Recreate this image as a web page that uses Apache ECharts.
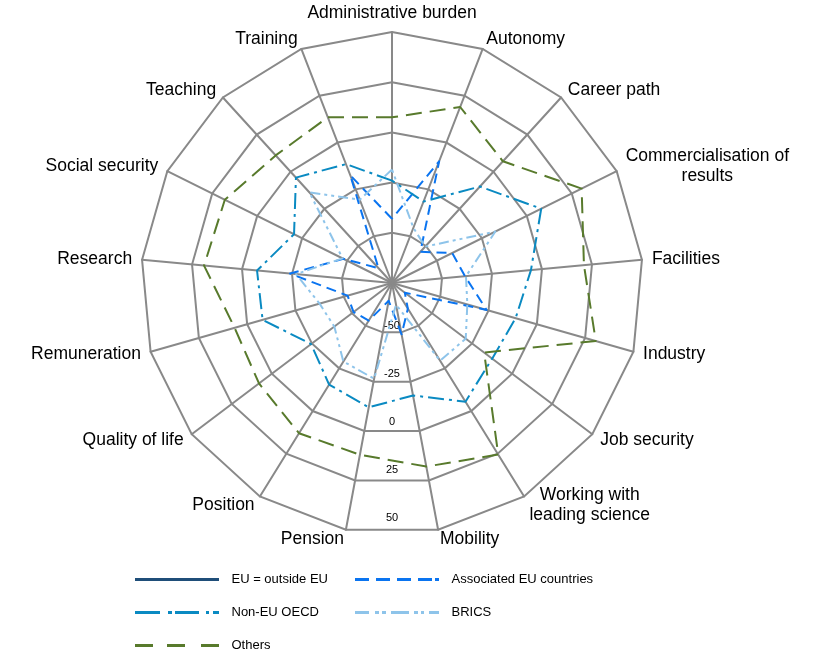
<!DOCTYPE html>
<html>
<head>
<meta charset="utf-8">
<script src="https://cdn.jsdelivr.net/npm/echarts@6/dist/echarts.min.js"></script>
<style>
html, body { margin: 0; padding: 0; background: #fff; }
#chart { width: 819px; height: 658px; }
</style>
</head>
<body>
<div id="chart"></div>
<script>
// axes, clockwise from the top
var indicatorNames = ['Administrative burden', 'Autonomy', 'Career path', 'Commercialisation of\nresults',
    'Facilities', 'Industry', 'Job security', 'Working with\nleading science', 'Mobility', 'Pension',
    'Position', 'Quality of life', 'Remuneration', 'Research', 'Social security', 'Teaching', 'Training'];

var scaleMin = -75;
var scaleMax = 50;
var scaleStep = 25;

var seriesNames = ['EU = outside EU', 'Associated EU countries', 'Non-EU OECD', 'BRICS', 'Others'];

var euOutside  = [0, 0, 0, 0, 0, 0, 0, 0, 0, 0, 0, 0, 0, 0, 0, 0, 0];
var associated = [-43, -10, -54, -41.5, -38.5, -26, -67, -60, -49, -66, -53, -51, -52, -24, -48, -65, -17.5];
var nonEuOecd  = [-24, -31.5, -10, 8, -5.5, -11, -12.5, -5.5, -18, -12, -15.5, -24.5, -8, -7.5, -20.5, -4, -11.5];
var brics      = [-18.5, -45.5, -50.5, -17.5, -38, -36, -29, -29.5, -64, -26.5, -29, -39, -37.5, -27, -47.5, -14, -30.5];
var others     = [7.5, 19, 7, 30.5, 21, 30.5, -17.5, 25.5, 18, 12, 13, 8, 6.5, 19, 18, 11, 13.5];

var colors = ['#1F4E79', '#0A74F0', '#0A8AC2', '#8EC4EA', '#587A2C'];
var dashes = ['solid', [10, 6], [16, 5, 3, 5], [10, 4, 3, 4, 3, 4], [16, 8]];
// legend samples, 85 x 3
var legendIcons = [
    'path://M0,0h84v3h-84z',
    'path://M0,0h14v3h-14zM21,0h14v3h-14zM42,0h14v3h-14zM63,0h14v3h-14zM80,0h4v3h-4z',
    'path://M0,0h25v3h-25zM33,0h4v3h-4zM40,0h24v3h-24zM71,0h3v3h-3zM78,0h6v3h-6z',
    'path://M0,0h14v3h-14zM20,0h4v3h-4zM27,0h4v3h-4zM36,0h18v3h-18zM59,0h4v3h-4zM66,0h3v3h-3zM74,0h10v3h-10z',
    'path://M0,0h18v3h-18zM32,0h18v3h-18zM66,0h18v3h-18z'
];

// echarts radar runs anticlockwise, so flip everything after the first axis
function clockwise(arr) {
    return [arr[0]].concat(arr.slice(1).reverse());
}

var indicator = clockwise(indicatorNames).map(function (n) {
    return { name: n, min: scaleMin, max: scaleMax };
});

var values = [euOutside, associated, nonEuOecd, brics, others];
var radarData = values.map(function (v, i) {
    return {
        name: seriesNames[i],
        value: clockwise(v),
        symbol: 'none',
        itemStyle: { color: colors[i] },
        lineStyle: { color: colors[i], width: 2, type: dashes[i], opacity: i === 0 ? 0 : 1 }
    };
});

function legendItem(i) {
    return { name: seriesNames[i], icon: legendIcons[i], itemStyle: { color: colors[i], opacity: 1 } };
}

var legendBase = {
    orient: 'vertical',
    top: 568,
    itemWidth: 85,
    itemHeight: 3,
    itemGap: 20,
    selectedMode: false,
    textStyle: { color: '#000', fontSize: 13, fontFamily: 'Liberation Sans', padding: [0, 0, 0, 7] }
};

var option = {
    backgroundColor: '#fff',
    animation: false,
    legend: [
        Object.assign({}, legendBase, { left: 130, data: [legendItem(0), legendItem(2), legendItem(4)] }),
        Object.assign({}, legendBase, { left: 350, data: [legendItem(1), legendItem(3)] })
    ],
    radar: {
        center: [392, 283],
        radius: 251,
        startAngle: 90,
        shape: 'polygon',
        splitNumber: (scaleMax - scaleMin) / scaleStep,
        nameGap: 10,
        indicator: indicator,
        axisName: {
            color: '#000',
            fontSize: 17.5,
            fontFamily: 'Liberation Sans',
            formatter: function (name) {
                return name.indexOf('\n') >= 0 ? '{c|' + name + '}' : name;
            },
            rich: {
                c: { align: 'center', fontSize: 17.5, fontFamily: 'Liberation Sans', color: '#000', lineHeight: 20 }
            }
        },
        splitLine: { lineStyle: { color: '#898989', width: 2 } },
        splitArea: { show: false },
        axisLine: { lineStyle: { color: '#898989', width: 2 } },
        axisTick: { show: false },
        axisLabel: { show: false }
    },
    // only used to print the scale down the bottom of the web
    polar: { center: [392, 283], radius: [0, 240] },
    angleAxis: { type: 'value', startAngle: 270, show: false },
    radiusAxis: {
        type: 'value',
        min: scaleMin,
        max: scaleMax,
        interval: scaleStep,
        axisLine: { show: false },
        axisTick: { show: false },
        splitLine: { show: false },
        axisLabel: {
            showMinLabel: false,
            margin: 0,
            align: 'center',
            verticalAlign: 'bottom',
            color: '#000',
            fontSize: 11,
            fontFamily: 'Liberation Sans'
        }
    },
    series: [{
        type: 'radar',
        symbol: 'none',
        data: radarData
    }]
};

var chart = echarts.init(document.getElementById('chart'));
chart.setOption(option);
window.addEventListener('resize', function () {
    chart.resize();
});
</script>
</body>
</html>
